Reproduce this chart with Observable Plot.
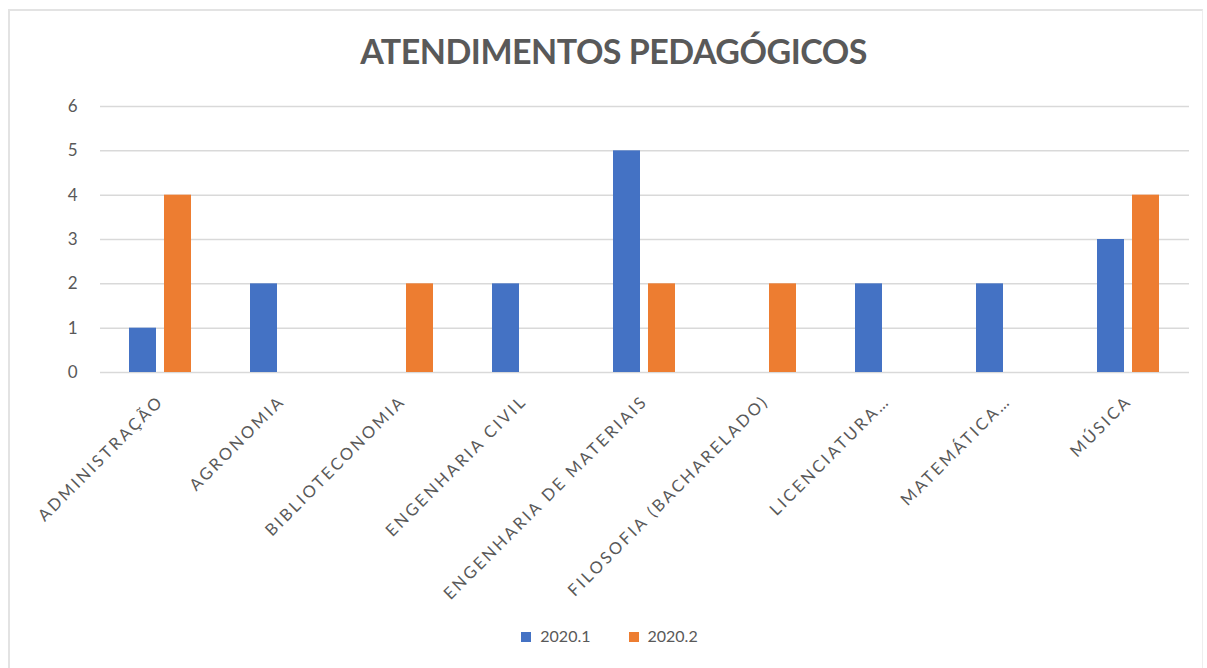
<!DOCTYPE html>
<html>
<head>
<meta charset="utf-8">
<script src="https://cdn.jsdelivr.net/npm/d3@7"></script>
<script src="https://cdn.jsdelivr.net/npm/@observablehq/plot@0.6"></script>
<style>
  html, body { margin: 0; padding: 0; background: #fff; }
  #wrap { position: relative; width: 1207px; height: 668px; font-family: Lato, "Open Sans", sans-serif; overflow: hidden; }
  #border { position: absolute; left: 8px; top: 9px; width: 1192px; height: 660px; border-left: 2px solid #e3e3e3; border-top: 2px solid #e3e3e3; border-right: 1px solid #eeeeee; }
  #title { position: absolute; left: 10px; width: 1207px; top: 30px; text-align: center; font-size: 34px; font-weight: 700; color: #595959; letter-spacing: -0.5px; }
  #chart { position: absolute; left: 0; top: 0; }
  #chart g[aria-label^="x-axis"] text { letter-spacing: 2.6px; font-size: 16.5px; }
  #chart g[aria-label^="y-axis"] text { font-size: 17px; }
  #legend { position: absolute; top: 626px; left: 6px; width: 1207px; text-align: center; font-size: 16px; color: #595959; }
  #legend span.item { display: inline-block; margin: 0 19px; }
  #legend span.sw { display: inline-block; width: 10px; height: 10px; margin-right: 9px; vertical-align: 0px; }
</style>
</head>
<body>
<div id="wrap">
  <div id="border"></div>
  <div id="title">ATENDIMENTOS PEDAGÓGICOS</div>
  <div id="chart"></div>
  <div id="legend"></div>
</div>
<script>
const categories = ["ADMINISTRAÇÃO", "AGRONOMIA", "BIBLIOTECONOMIA", "ENGENHARIA CIVIL", "ENGENHARIA DE MATERIAIS", "FILOSOFIA (BACHARELADO)", "LICENCIATURA…", "MATEMÁTICA…", "MÚSICA"];
const series = ["2020.1", "2020.2"];
const values2020_1 = [1, 2, 0, 2, 5, 0, 2, 2, 3];
const values2020_2 = [4, 0, 2, 0, 2, 2, 0, 0, 4];
const yTicks = [0, 1, 2, 3, 4, 5, 6];
const colors = ["#4472C4", "#ED7D31"];

const rows1 = categories.map((c, i) => ({course: c, series: series[0], value: values2020_1[i]}));
const rows2 = categories.map((c, i) => ({course: c, series: series[1], value: values2020_2[i]}));

const W = 1207, H = 600;
const plot = Plot.plot({
  width: W,
  height: H,
  marginTop: 106,
  marginBottom: H - 372,
  marginLeft: 100,
  marginRight: 18,
  style: { fontFamily: "Lato, 'Open Sans', sans-serif", fontSize: "15px", color: "#595959", background: "transparent", overflow: "visible" },
  x: { domain: categories, padding: 0, tickRotate: -45, tickSize: 0, tickPadding: 26, label: null },
  y: { domain: [0, 6], ticks: yTicks, tickSize: 0, tickPadding: 23, label: null, tickFormat: d3.format("d") },
  color: { domain: series, range: colors },
  marks: [
    Plot.ruleY(yTicks, { stroke: "#d9d9d9", strokeWidth: 1.5 }),
    Plot.barY(rows1.filter(d => d.value > 0), { x: "course", y: "value", fill: d => d.series, insetLeft: 29, insetRight: 65 }),
    Plot.barY(rows2.filter(d => d.value > 0), { x: "course", y: "value", fill: d => d.series, insetLeft: 64, insetRight: 30 })
  ]
});
document.getElementById("chart").appendChild(plot);

const legend = document.getElementById("legend");
series.forEach((s, i) => {
  const item = document.createElement("span");
  item.className = "item";
  const sw = document.createElement("span");
  sw.className = "sw";
  sw.style.background = colors[i];
  item.appendChild(sw);
  item.appendChild(document.createTextNode(s));
  legend.appendChild(item);
});
</script>
</body>
</html>
